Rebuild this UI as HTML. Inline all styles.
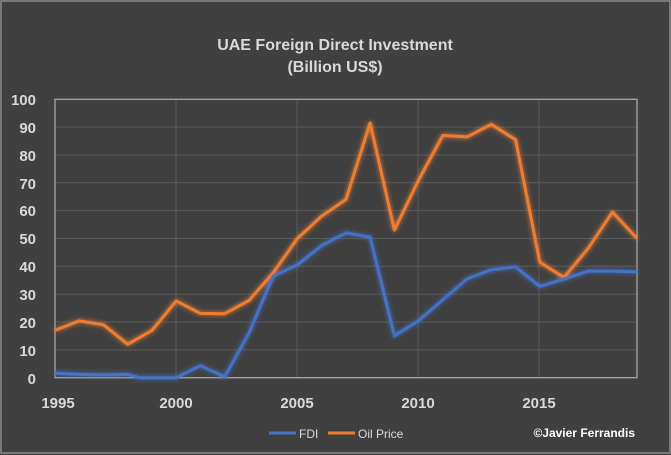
<!DOCTYPE html><html><head><style>body{margin:0;background:#404040}svg{display:block;font-family:"Liberation Sans",sans-serif}</style></head><body>
<svg width="671" height="455" viewBox="0 0 671 455">
<defs><filter id="g" x="-10%" y="-10%" width="120%" height="120%"><feGaussianBlur stdDeviation="2.5" result="b"/><feMerge><feMergeNode in="b"/><feMergeNode in="SourceGraphic"/></feMerge></filter></defs>
<rect x="0" y="0" width="671" height="455" fill="#404040"/>
<rect x="1" y="1" width="669" height="452" fill="none" stroke="#8a8a8a" stroke-width="1.5"/>
<text x="335" y="50" text-anchor="middle" fill="#d9d9d9" font-size="16" font-weight="bold">UAE Foreign Direct Investment</text>
<text x="335" y="72" text-anchor="middle" fill="#d9d9d9" font-size="16" font-weight="bold">(Billion US$)</text>
<g stroke="#5a5a5a" stroke-width="1">
<line x1="55" x2="637" y1="127.1" y2="127.1"/><line x1="55" x2="637" y1="155" y2="155"/><line x1="55" x2="637" y1="182.8" y2="182.8"/><line x1="55" x2="637" y1="210.6" y2="210.6"/><line x1="55" x2="637" y1="238.5" y2="238.5"/><line x1="55" x2="637" y1="266.3" y2="266.3"/><line x1="55" x2="637" y1="294.2" y2="294.2"/><line x1="55" x2="637" y1="322" y2="322"/><line x1="55" x2="637" y1="349.9" y2="349.9"/>
<line x1="176" x2="176" y1="99" y2="378"/><line x1="297" x2="297" y1="99" y2="378"/><line x1="418" x2="418" y1="99" y2="378"/><line x1="539" x2="539" y1="99" y2="378"/>
</g>
<rect x="55" y="99.3" width="582" height="278.4" fill="none" stroke="#a6a6a6" stroke-width="1.3"/>
<g fill="#d9d9d9" font-size="15" font-weight="bold" text-anchor="end">
<text x="36" y="105">100</text><text x="36" y="133">90</text><text x="36" y="161">80</text><text x="36" y="189">70</text><text x="36" y="216">60</text><text x="36" y="244">50</text><text x="36" y="272">40</text><text x="36" y="300">30</text><text x="36" y="328">20</text><text x="36" y="356">10</text><text x="36" y="384">0</text>
</g>
<g fill="#d9d9d9" font-size="15" font-weight="bold" text-anchor="middle">
<text x="58" y="408">1995</text><text x="176" y="408">2000</text><text x="297" y="408">2005</text><text x="418" y="408">2010</text><text x="539" y="408">2015</text>
</g>
<g fill="none" stroke-width="3" stroke-linejoin="round" filter="url(#g)">
<polyline stroke="#ED7D31" points="55,330.4 79.2,320.9 103.5,324.8 127.7,344.3 152,330.4 176.2,300.9 200.4,313.4 224.7,313.7 248.9,300.6 273.2,272.7 297.4,238.5 321.6,216.2 345.9,199.5 370.1,122.9 394.4,230.1 418.6,180 442.8,135.5 467.1,136.9 491.3,124.3 515.6,139.7 539.8,262.2 564,277.5 588.3,248.2 612.5,212.1 637,238.5"/>
<polyline stroke="#4472C4" points="55,373.2 79.2,374.4 103.5,374.9 127.7,374.4 140,377.7 176.2,377.7 200.4,365.7 224.7,376.9 248.9,333.2 273.2,276.1 297.4,264.9 321.6,245.5 345.9,232.9 370.1,237.1 394.4,335.9 418.6,320.6 442.8,299.7 467.1,278.9 491.3,269.7 515.6,266.9 539.8,286.4 564,278.9 588.3,271.1 612.5,271.1 637,271.9"/>
</g>
<line x1="269" x2="296" y1="433" y2="433" stroke="#4472C4" stroke-width="3"/>
<text x="299" y="438" fill="#d9d9d9" font-size="12">FDI</text>
<line x1="328" x2="355" y1="433" y2="433" stroke="#ED7D31" stroke-width="3"/>
<text x="358" y="438" fill="#d9d9d9" font-size="12">Oil Price</text>
<text x="635" y="437" text-anchor="end" fill="#ffffff" font-size="12" font-weight="bold">©Javier Ferrandis</text>
</svg></body></html>
